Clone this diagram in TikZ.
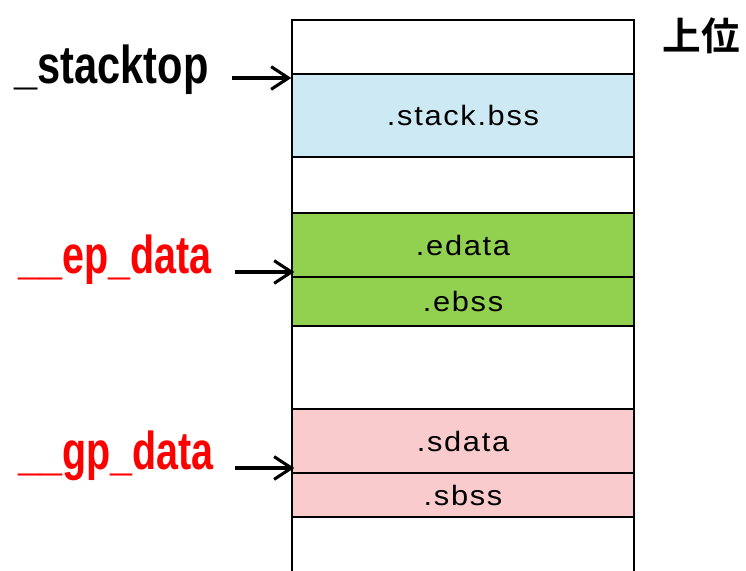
\documentclass[tikz,border=0pt]{standalone}
\usepackage{fontspec}
\setmainfont{Liberation Sans}
\newfontfamily\lblfont{Liberation Sans}[FakeStretch=0.74]
\newfontfamily\toplblfont{Liberation Sans}[FakeStretch=0.78]
\newfontfamily\boxfont{Liberation Sans}[FakeStretch=1.1,LetterSpace=6]
\newfontfamily\cjk{Noto Sans CJK JP Bold}
\usetikzlibrary{calc, arrows.meta}

\definecolor{stackblue}{RGB}{205,233,244}
\definecolor{ebssgreen}{RGB}{146,208,80}
\definecolor{sdatapink}{RGB}{249,203,204}

\tikzset{
  sect/.style={draw=black, line width=1.1pt, minimum width=256.5pt, minimum height={#1*0.75pt},
    inner sep=0pt, font=\boxfont\fontsize{21}{21}\selectfont},
  lbl/.style={anchor=base west, inner sep=0pt, font=\lblfont\bfseries\fontsize{40}{40}\selectfont},
  ptr/.style={line width=2.3pt, -{Straight Barb[length=13pt,width=17pt,line width=2.3pt]}}
}

\begin{document}
\begin{tikzpicture}[x=0.75pt,y=-0.75pt]
      \useasboundingbox (0,0) rectangle (746,571);

      % memory column
      \draw[line width=1.1pt] (292,571) |- (634,20) -- (634,571);

      \node[sect=83, fill=stackblue] (stack) at (463,115.5) {.stack.bss};
      \node[sect=64, fill=ebssgreen] (edata) at (463,245) {.edata};
      \node[sect=49, fill=ebssgreen] (ebss) at (463,301.5) {.ebss};
      \node[sect=64, fill=sdatapink] (sdata) at (463,441) {.sdata};
      \node[sect=44, fill=sdatapink] (sbss) at (463,495) {.sbss};

      \node[font=\cjk\fontsize{29}{29}\selectfont, inner sep=0pt] (upper) at (701,36) {上位};

      % symbols
      \node[lbl, font=\toplblfont\bfseries\fontsize{40}{40}\selectfont] (stacktop) at (14,83) {\_stacktop};
      \node[lbl, text=red] (epdata) at (18,273) {\_\_ep\_data};
      \node[lbl, text=red] (gpdata) at (18,469) {\_\_gp\_data};

      \coordinate (s0) at (232,78);
      \coordinate (e0) at (235,272);
      \coordinate (g0) at (235,468);

      \draw[ptr] (s0) -- (s0 -| stack.west);
      \draw[ptr] (e0) -- ($(e0 -| edata.west)+(3,0)$);
      \draw[ptr] (g0) -- ($(g0 -| sdata.west)+(3,0)$);
\end{tikzpicture}
\end{document}
